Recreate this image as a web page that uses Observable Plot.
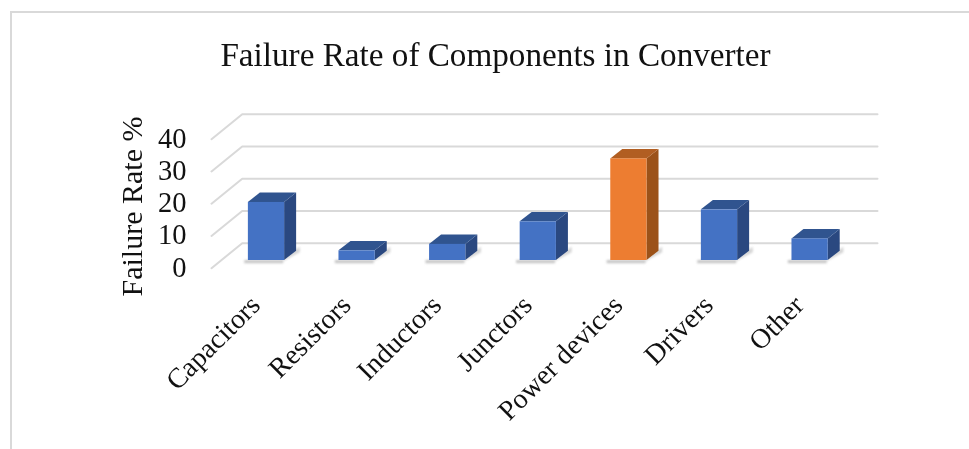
<!DOCTYPE html>
<html>
<head>
<meta charset="utf-8">
<script src="https://cdn.jsdelivr.net/npm/d3@7"></script>
<script src="https://cdn.jsdelivr.net/npm/@observablehq/plot@0.6"></script>
<style>
html, body { margin: 0; padding: 0; background: #fff; width: 969px; height: 449px; overflow: hidden; }
#border { position: absolute; left: 10px; top: 11px; right: 0; bottom: 0; border-left: 2px solid #d9d9d9; border-top: 2px solid #d9d9d9; }
#chart { position: absolute; left: 0; top: 0; }
#chart svg { filter: blur(0.45px); }
</style>
</head>
<body>
<div id="border"></div>
<div id="chart"></div>
<script>
const titleText = "Failure Rate of Components in Converter";
const yLabel = "Failure Rate %";
const categories = ["Capacitors", "Resistors", "Inductors", "Junctors", "Power devices", "Drivers", "Other"];
const failureRates = [18, 3, 5, 12, 31.5, 15.7, 6.7];
const highlighted = ["Power devices"];
const yTicks = [0, 10, 20, 30, 40];

// Pseudo-3D offsets, in scale units
const halfBar = 0.2, depthX = 0.1325, depthY = 2.9;
const floorFrontX = -0.607, floorBackX = -0.268, floorEndX = 6.744;
const floorFrontY = -2.39, floorBackY = 5.36;

const bars = categories.map((name, i) => ({
  name, i, v: failureRates[i], hot: highlighted.includes(name),
  x1: i - halfBar, x2: i + halfBar
}));
const colors = {
  blue: {front: "#4472c4", side: "#2a4880", top: "#30548f"},
  orange: {front: "#ed7d31", side: "#9c5219", top: "#b15e22"}
};
const pal = b => b.hot ? colors.orange : colors.blue;

const gridRows = yTicks.flatMap(t => [
  {t, x: floorFrontX, y: t + floorFrontY},
  {t, x: floorBackX, y: t + floorBackY},
  {t, x: floorEndX, y: t + floorBackY}
]);
const sideRows = bars.flatMap(b => [
  {b, x: b.x2, y1: 0, y2: b.v},
  {b, x: b.x2 + depthX, y1: depthY, y2: b.v + depthY}
]);
const topRows = bars.flatMap(b => [
  {b, x: b.x1, y1: b.v, y2: b.v},
  {b, x: b.x1 + depthX, y1: b.v, y2: b.v + depthY},
  {b, x: b.x2, y1: b.v, y2: b.v + depthY},
  {b, x: b.x2 + depthX, y1: b.v + depthY, y2: b.v + depthY}
]);
const shadowRows = bars.flatMap(b => [
  {b, x: b.x2 - 0.01, y1: -0.3, y2: 0.3},
  {b, x: b.x2 + depthX + 0.04, y1: depthY - 0.5, y2: depthY + 1.2}
]);

const plot = Plot.plot({
  width: 969,
  height: 449,
  marginLeft: 211,
  marginRight: 92,
  marginTop: 100,
  marginBottom: 169,
  style: {fontFamily: "'Liberation Serif', serif", background: "transparent", color: "#111"},
  x: {type: "linear", domain: [floorFrontX, floorEndX], range: [211, 877]},
  y: {domain: [-6.2, 49.61], range: [280, 100]},
  marks: [
    Plot.line(gridRows, {x: "x", y: "y", z: "t", stroke: "#d9d9d9", strokeWidth: 2, curve: "linear"}),
    Plot.areaY(shadowRows, {x: "x", y1: "y1", y2: "y2", z: d => d.b.name, fill: "#aaa", fillOpacity: 0.5, imageFilter: "blur(1px)"}),
    Plot.rect(bars, {x1: d => d.x1 - 0.04, x2: d => d.x2 - 0.01, y1: () => -1, y2: () => 0, fill: "#999", fillOpacity: 0.55, imageFilter: "blur(1px)"}),
    Plot.areaY(sideRows, {x: "x", y1: "y1", y2: "y2", z: d => d.b.name, fill: d => pal(d.b).side}),
    Plot.areaY(topRows, {x: "x", y1: "y1", y2: "y2", z: d => d.b.name, fill: d => pal(d.b).top}),
    Plot.rect(bars, {x1: "x1", x2: "x2", y1: () => 0, y2: "v", fill: d => pal(d).front}),
    Plot.axisY({ticks: yTicks, tickSize: 0, tickPadding: 25, dy: 7, fontSize: 28.5, label: null}),
    Plot.axisX({
      ticks: categories.map((_, i) => i),
      tickFormat: i => categories[i],
      tickRotate: -45,
      tickSize: 0,
      tickPadding: 12,
      dx: -11,
      dy: 8,
      fontSize: 28,
      label: null
    }),
    Plot.text([yLabel], {text: d => d, frameAnchor: "left", textAnchor: "middle", dx: -79, dy: 16, rotate: -90, fontSize: 30, fill: "#111"}),
    Plot.text([titleText], {text: d => d, frameAnchor: "top", dx: -49, dy: -45, fontSize: 33.2, fill: "#111", lineAnchor: "middle"})
  ]
});
document.getElementById("chart").append(plot);
</script>
</body>
</html>
